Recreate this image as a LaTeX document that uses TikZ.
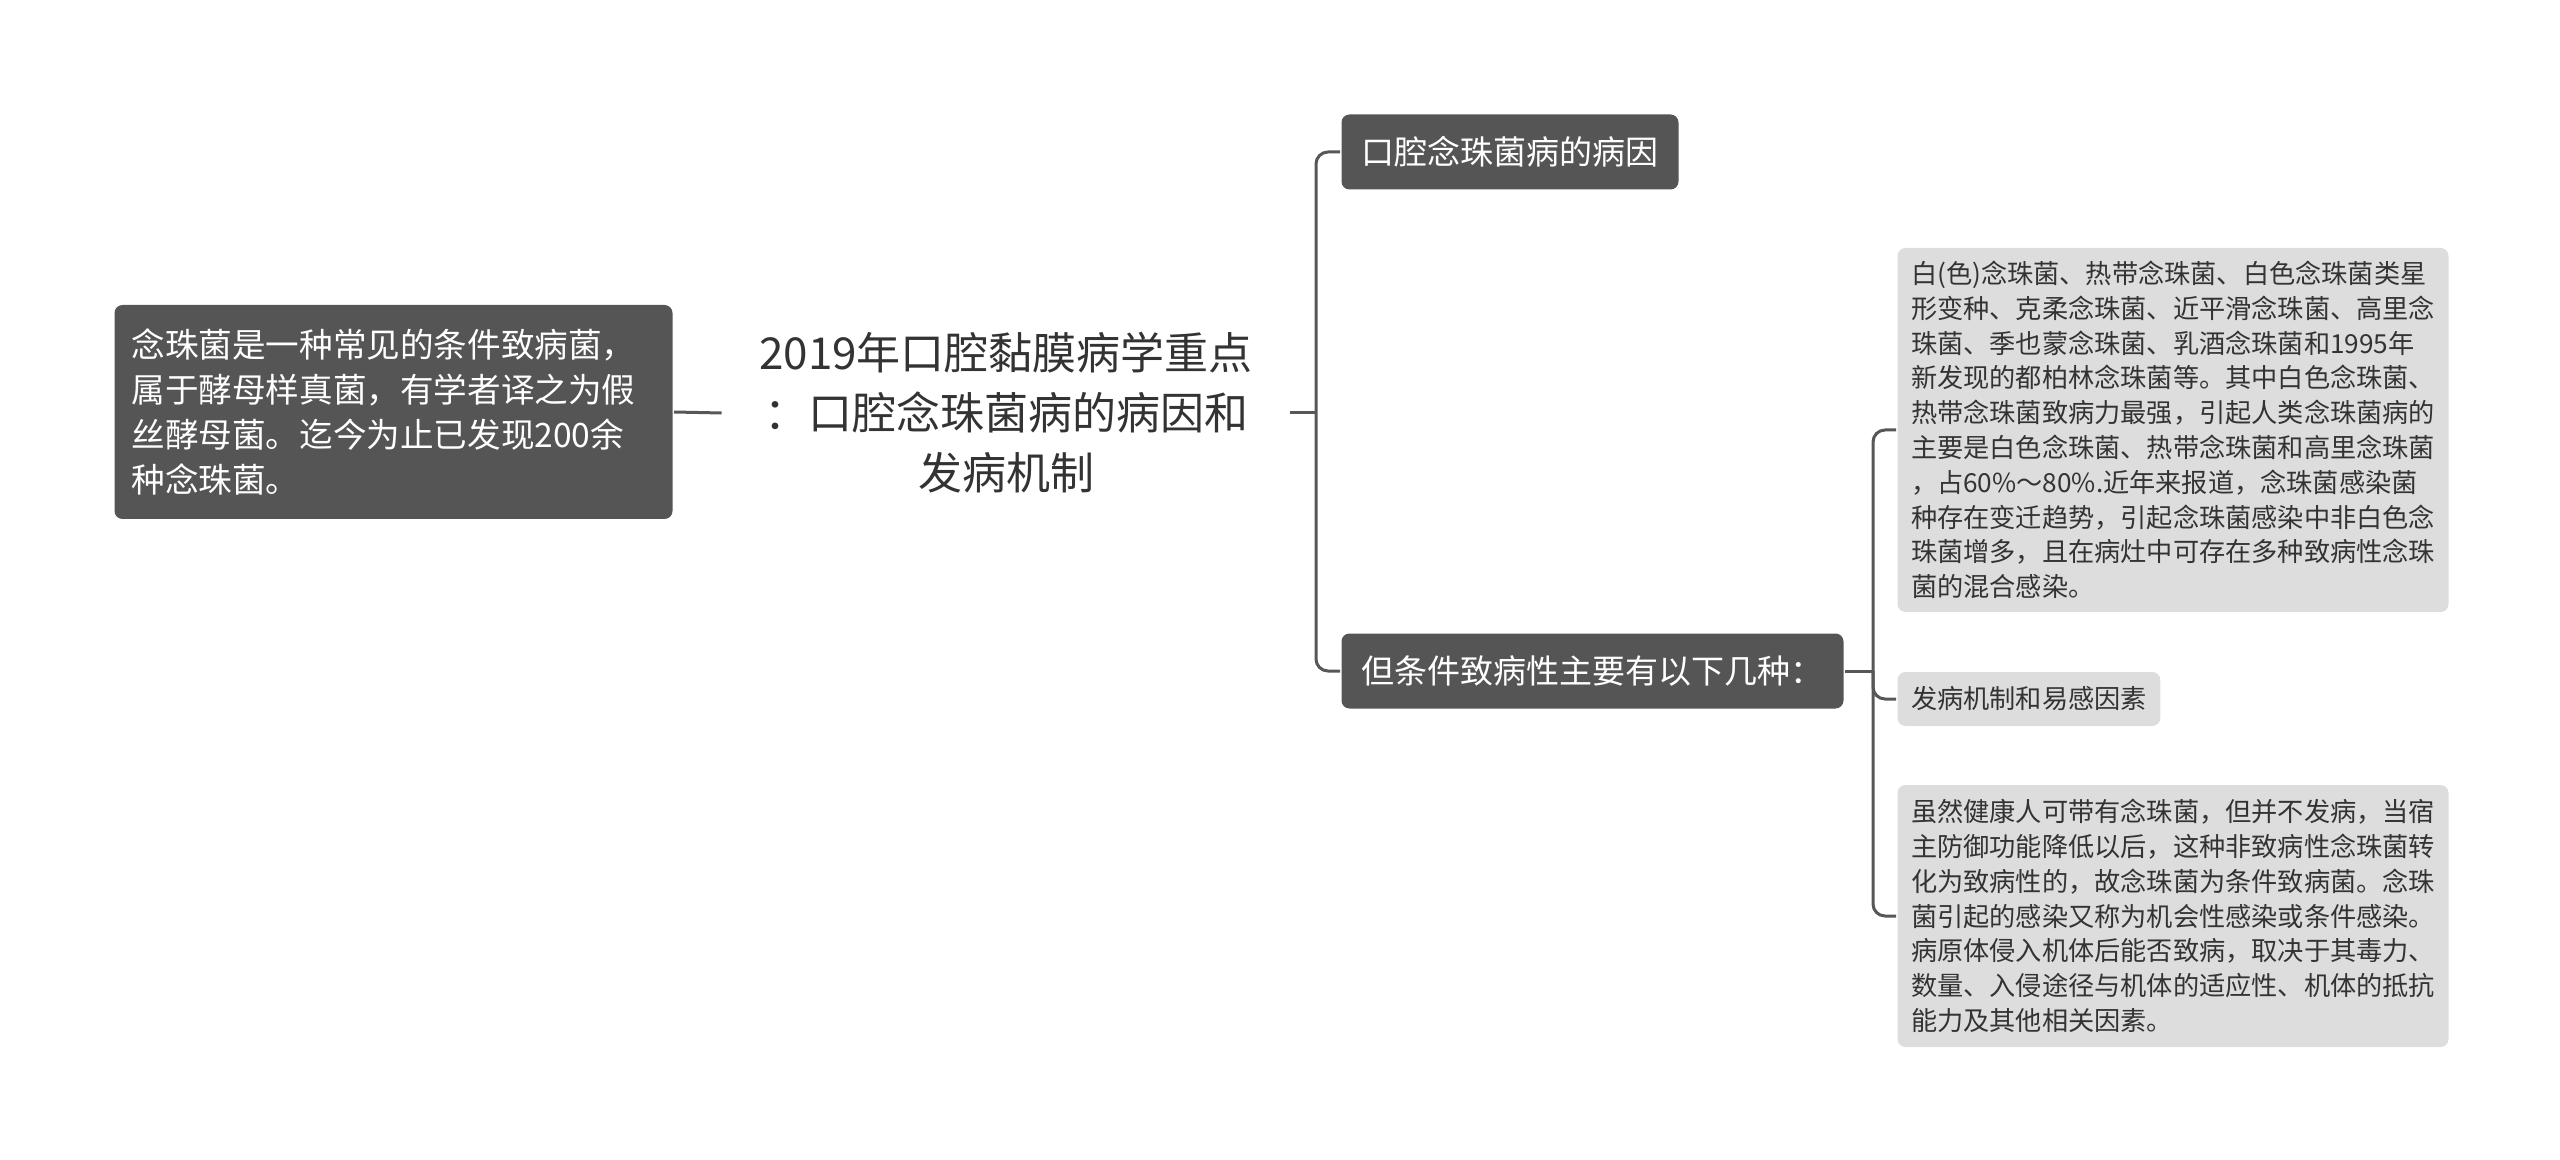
\documentclass[tikz,border=0pt]{standalone}
\usepackage{fontspec}
\setmainfont{Noto Sans CJK SC}
\usepackage{xcolor}
\usepackage{tikz}
\usetikzlibrary{positioning}
\definecolor{darkfill}{HTML}{555555}
\definecolor{leaffill}{HTML}{DDDDDD}
\definecolor{linegray}{HTML}{575757}
\definecolor{textgray}{HTML}{333333}

\begin{document}
\begin{tikzpicture}[x=0.5pt, y=-0.5pt, line width=1.5pt]
\tikzstyle{dark}=[rounded corners=4pt, fill=darkfill, text=white, inner xsep=10pt, minimum height=37.5pt, anchor=west, font=\fontsize{16.5}{20}\selectfont]
\tikzstyle{leaf}=[rounded corners=4pt, fill=leaffill, text=textgray, inner xsep=6.75pt, inner ysep=6pt, anchor=west, align=left, font=\fontsize{13.1}{17.4}\selectfont]
\tikzstyle{link}=[draw=linegray, rounded corners=6pt]
\useasboundingbox (0,0) rectangle (2560,1160);
% centre topic
\node[align=center, text=textgray, inner xsep=18pt, font=\fontsize{22}{30}\selectfont] (title) at (1006,413) {2019年口腔黏膜病学重点\\：口腔念珠菌病的病因和\\发病机制};
% left branch
\node[dark, align=left, text width=262pt, inner xsep=8.5pt, minimum height=107pt, font=\fontsize{16.8}{22.6}\selectfont] (candida) at (113,412) {念珠菌是一种常见的条件致病菌，\\
属于酵母样真菌，有学者译之为假\\
丝酵母菌。迄今为止已发现200余\\
种念珠菌。};
% right branch
\node[dark] (cause) at (1340,152) {口腔念珠菌病的病因};
\node[dark] (cond) at (1340,671) {但条件致病性主要有以下几种：};
\node[leaf, text width=262pt, minimum height=182pt] (species) at (1896,430) {白(色)念珠菌、热带念珠菌、白色念珠菌类星\\
形变种、克柔念珠菌、近平滑念珠菌、高里念\\
珠菌、季也蒙念珠菌、乳酒念珠菌和1995年\\
新发现的都柏林念珠菌等。其中白色念珠菌、\\
热带念珠菌致病力最强，引起人类念珠菌病的\\
主要是白色念珠菌、热带念珠菌和高里念珠菌\\
，占60\%～80\%.近年来报道，念珠菌感染菌\\
种存在变迁趋势，引起念珠菌感染中非白色念\\
珠菌增多，且在病灶中可存在多种致病性念珠\\
菌的混合感染。};
\node[leaf, minimum height=27pt] (factor) at (1896,699) {发病机制和易感因素};
\node[leaf, text width=262pt, minimum height=131pt] (host) at (1896,916) {虽然健康人可带有念珠菌，但并不发病，当宿\\
主防御功能降低以后，这种非致病性念珠菌转\\
化为致病性的，故念珠菌为条件致病菌。念珠\\
菌引起的感染又称为机会性感染或条件感染。\\
病原体侵入机体后能否致病，取决于其毒力、\\
数量、入侵途径与机体的适应性、机体的抵抗\\
能力及其他相关因素。};
\coordinate (j1) at (1316,413);
\coordinate (j2) at (1873,671);
\draw[link] (candida.east) -- (title.west);
\draw[link] (title.east) -- (j1);
\draw[link] (j1) |- (cause.west);
\draw[link] (j1) |- (cond.west);
\draw[link] (cond.east) -- (j2);
\draw[link] (j2) |- (species.west);
\draw[link] (j2) |- (factor.west);
\draw[link] (j2) |- (host.west);
\end{tikzpicture}
\end{document}
